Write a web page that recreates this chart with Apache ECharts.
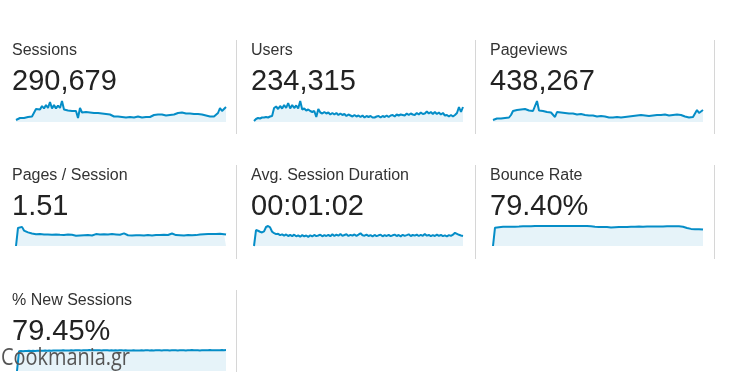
<!DOCTYPE html>
<html>
<head>
<meta charset="utf-8">
<style>
  html, body { margin: 0; padding: 0; background: #fff; }
  #chart { width: 729px; height: 372px; }
</style>
<script src="https://cdn.jsdelivr.net/npm/echarts@6/dist/echarts.min.js"></script>
</head>
<body>
<div id="chart"></div>
<script>
// ---- Data ----
var metricNames = ['Sessions', 'Users', 'Pageviews', 'Pages / Session', 'Avg. Session Duration', 'Bounce Rate', '% New Sessions'];
var metricTotals = ['290,679', '234,315', '438,267', '1.51', '00:01:02', '79.40%', '79.45%'];

var sessions = [
  760,1140,1520,1330,1520,1710,1900,1710,2090,2280,
  4940,5700,4750,6080,5130,6460,5320,7600,5130,6460,
  5130,6270,5320,7980,4750,5130,4370,4750,4180,3800,
  4180,1520,5320,3610,3230,3800,3230,3610,2850,3420,
  2850,3420,2660,3230,2660,3040,2280,2850,2470,2090,
  2660,2090,2470,1900,2470,1710,2280,1900,2280,1710,
  1710,2090,2280,1710,2280,1900,2470,1900,2470,2660,
  2090,2850,2470,2850,2660,2470,3230,2660,3230,2850,
  2660,3420,2850,3610,3040,3230,3990,3230,3800,3040,
  3800,3040,3610,2850,3420,2470,2660,2090,2660,2090,
  2660,3420,5320,4180,4560,5700];
var users = [
  300,900,1200,1050,1350,1350,1500,1350,1650,1800,
  4200,4650,3900,4800,4050,5100,4200,5700,4050,5100,
  4200,4950,4050,6300,3750,4050,3450,3750,3300,3000,
  3300,1500,3900,2850,2550,3000,2550,2850,2250,2700,
  2250,2700,2100,2550,2100,2400,1800,2250,1950,1650,
  2100,1650,1950,1500,1950,1350,1800,1500,1800,1350,
  1350,1650,1800,1350,1800,1500,1950,1500,1950,2100,
  1650,2250,1950,2250,2100,1950,2550,2100,2550,2250,
  2100,2700,2250,2850,2400,2550,3150,2550,3000,2400,
  3000,2400,2850,2250,2700,1950,2100,1650,2100,1650,
  2100,2700,4500,3000,4500];
var pageviews = [
  1120,1400,1960,2240,1960,2520,2240,2800,2520,3920,
  6160,5320,6720,5600,7000,5880,7280,7840,6440,7560,
  6160,7280,11760,6440,7000,6160,6720,5600,6160,5320,
  5880,2800,5600,4480,5320,4200,5040,3920,4760,3920,
  4760,3920,4200,3640,4480,3360,3920,3080,3640,2800,
  3640,2800,3080,2520,3360,2240,3080,2240,2520,2240,
  2520,2240,2800,2240,2520,1960,2800,2240,3080,2800,
  3360,2800,3640,3080,3920,3360,3640,4200,3360,4480,
  3640,4760,3920,4480,3920,4760,4200,4760,3640,4480,
  3920,3360,4200,3080,3920,2800,3080,2240,2520,1960,
  2800,3360,6720,5040,6160,6720];
var pagesPerSession = [
  0,2.45,2.72,2.6,2.1,1.95,1.85,1.75,1.7,1.62,
  1.6,1.52,1.62,1.5,1.58,1.46,1.56,1.45,1.54,1.42,
  1.55,1.44,1.52,1.4,1.5,1.45,1.56,1.42,1.52,1.46,
  1.4,1.52,1.44,1.56,1.46,1.6,1.48,1.52,1.42,1.55,
  1.62,1.48,1.58,1.44,1.6,1.46,1.58,1.5,1.62,1.45,
  1.58,1.48,1.54,1.62,1.72,1.52,1.46,1.58,1.44,1.55,
  1.46,1.58,1.45,1.56,1.42,1.54,1.48,1.6,1.44,1.55,
  1.48,1.6,1.5,1.62,1.52,1.66,1.5,1.56,1.7,1.52,
  1.48,1.6,1.46,1.56,1.44,1.58,1.48,1.6,1.45,1.55,
  1.48,1.42,1.56,1.46,1.6,1.48,1.62,1.5,1.64,1.52,
  1.62,1.54,1.66,1.52,1.6,1.55];
var avgDuration = [
  0,94,90,84,80,86,112,118,110,84,
  76,70,72,64,69,61,68,59,65,58,
  67,57,63,55,64,57,62,54,63,57,
  65,58,62,67,57,64,59,66,58,69,
  59,67,61,71,60,65,69,59,66,61,
  68,60,67,75,63,61,67,59,64,57,
  65,58,63,67,57,64,59,66,58,63,
  67,59,65,57,66,60,64,69,59,65,
  61,67,59,66,60,71,61,65,58,64,
  59,67,60,65,58,63,57,64,60,67,
  78,72,66,62,59];
var bounceRate = [
  0,76,77.5,78,79,79.5,79,80,79.5,80,
  80.5,80,81,80.5,81,81.5,81,81.5,82,81.5,
  82,82.5,82,82.5,83,82.5,83,82.5,83,82.5,
  82,82.5,82,82.5,82,82.5,82,82.5,82,82.5,
  82,82.5,82.5,83,82.5,83,82.5,82.5,82,81.5,
  81,80,79.5,79,78.5,79,78,78.5,77.5,77,
  77.5,78,78.5,79,78.5,79,79.5,79,80,79.5,
  80,79.5,80,80.5,80,79.5,80,80.5,80,80.5,
  80,80.5,81,80.5,81,80.5,81,81.5,81,81.5,
  81,81.5,81,81.5,81,80,78,75,72,71,
  70.5,70,69.5,70,69,68.5];
var newSessions = [
  0,76,77,76.5,77.5,77,78,77.5,78,77.5,
  78,78.5,78,78.5,79,78.5,79,78.5,79,79.5,
  79,79.5,79,80,79.5,79,79.5,80,79.5,80,
  80.5,80,79.5,80,80.5,80,81,80.5,80,80.5,
  80,80.5,79.5,80,80.5,80,79.5,80,79.5,80,
  79.5,80,80.5,79.5,80,79.5,79,79.5,80,79.5,
  79,79.5,80,79.5,80,80.5,79.5,80,79.5,80,
  80.5,80,79.5,80,80.5,80,79.5,80,80.5,80,
  79.5,80,80.5,80,79.5,80,80.5,81,80,80.5,
  80,79.5,80,80.5,80,80.5,81,80.5,80,80.5,
  80,80.5,81,80.5,81];

var seriesData = [sessions, users, pageviews, pagesPerSession, avgDuration, bounceRate, newSessions];

// ---- Layout ----
var colX = [12, 251, 490];
var sparkBoxes = [
  {left: 16, top: 101, width: 210, height: 21},
  {left: 254, top: 101, width: 209, height: 21},
  {left: 493, top: 101, width: 210, height: 21},
  {left: 16, top: 226, width: 210, height: 20},
  {left: 254, top: 226, width: 209, height: 20},
  {left: 493, top: 226, width: 210, height: 20},
  {left: 17, top: 350, width: 209, height: 21}
];
var rowOffset = [0, 0, 0, 125, 125, 125, 250];
var colIdx = [0, 1, 2, 0, 1, 2, 0];

var LINE = '#058dc7';
var FILL = '#e6f3f9';

var grids = [], xAxes = [], yAxes = [], series = [], graphics = [];
for (var i = 0; i < seriesData.length; i++) {
  var b = sparkBoxes[i];
  grids.push({left: b.left, top: b.top, width: b.width, height: b.height, containLabel: false});
  var cats = seriesData[i].map(function (_, k) { return k; });
  xAxes.push({type: 'category', gridIndex: i, data: cats, boundaryGap: false, show: false});
  yAxes.push({type: 'value', gridIndex: i, min: 0, max: 'dataMax', show: false});
  series.push({
    type: 'line', xAxisIndex: i, yAxisIndex: i, data: seriesData[i],
    showSymbol: false, symbol: 'none', animation: false, silent: true,
    lineStyle: {color: LINE, width: 2},
    areaStyle: {color: FILL, opacity: 1},
    z: 2
  });
  var x = colX[colIdx[i]];
  var dy = rowOffset[i];
  graphics.push({
    type: 'text', left: x, top: 43 + dy, silent: true,
    style: {text: metricNames[i], font: '16px "Liberation Sans", Arial, sans-serif', fill: '#333'}
  });
  graphics.push({
    type: 'text', left: x, top: 67 + dy, silent: true,
    style: {text: metricTotals[i], font: '29px "Liberation Sans", Arial, sans-serif', fill: '#222'}
  });
}

// dividers
var dividers = [
  [236, 40, 134], [475, 40, 134], [714, 40, 134],
  [236, 165, 259], [475, 165, 259], [714, 165, 259],
  [236, 290, 372]
];
dividers.forEach(function (d) {
  graphics.push({
    type: 'line', silent: true,
    shape: {x1: d[0] + 0.5, y1: d[1], x2: d[0] + 0.5, y2: d[2]},
    style: {stroke: '#d6d6d6', lineWidth: 1}
  });
});

// watermark
graphics.push({
  type: 'text', x: 1, y: 346, scaleX: 0.83, z: 100, silent: true,
  style: {text: 'Cookmania.gr', font: '24px "Open Sans", "DejaVu Sans", sans-serif', fill: '#555', verticalAlign: 'top'}
});

var chart = echarts.init(document.getElementById('chart'), null, {renderer: 'canvas'});
chart.setOption({
  animation: false,
  grid: grids,
  xAxis: xAxes,
  yAxis: yAxes,
  series: series,
  graphic: {elements: graphics}
});
</script>
</body>
</html>
